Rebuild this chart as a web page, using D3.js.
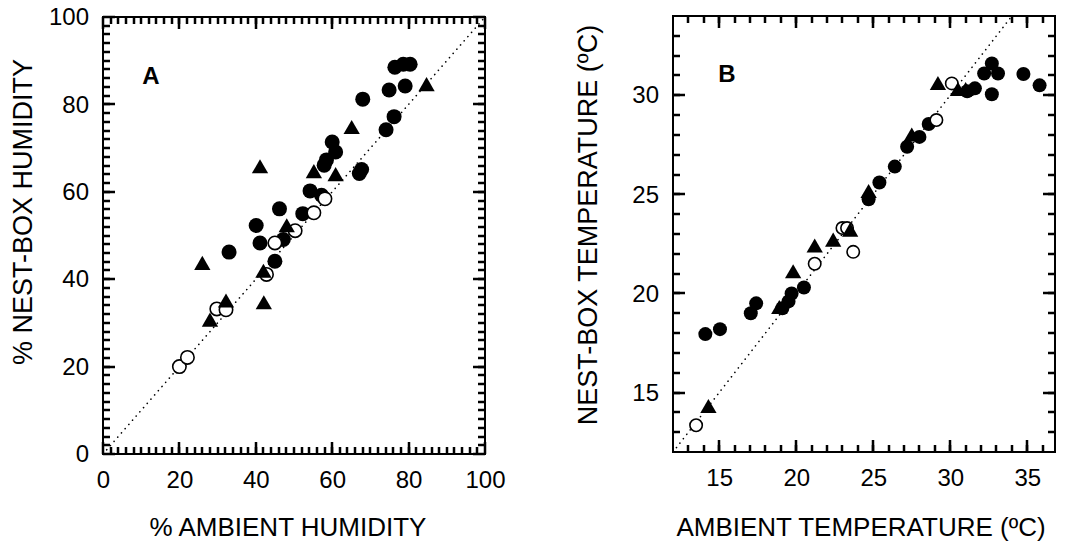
<!DOCTYPE html>
<html>
<meta charset="utf-8">
<style>
    body { margin: 0; background: #fff; }
    svg { display: block; }
    text { font-family: "Liberation Sans", Arial, sans-serif; fill: #000; }
</style>
<body>
<script src="https://d3js.org/d3.v7.min.js"></script>
<script>
// Panel A: humidity (ambient vs nest-box).
var aFilled = [[76.4,88.5],[78.6,89.2],[80.4,89.2],[79.1,84.2],[74.9,83.3],[68.0,81.2],[76.2,77.2],
    [74.1,74.2],[60.0,71.4],[60.9,69.1],[58.5,67.3],[57.9,66.1],[67.7,65.1],[67.1,64.2],[54.2,60.2],
    [57.2,59.2],[46.2,56.1],[52.3,55.0],[40.1,52.3],[41.1,48.3],[47.2,49.1],[33.0,46.2],[45.0,44.1]];
var aOpen = [[20.0,20.0],[22.1,22.1],[29.8,33.2],[32.2,33.0],[42.8,41.1],[45.0,48.3],[50.3,51.1],
    [55.2,55.2],[58.1,58.4]];
var aTriangle = [[84.7,84.1],[65.1,74.3],[41.1,65.3],[55.2,64.2],[60.9,63.5],[48.1,51.8],[26.0,43.2],
    [42.0,41.4],[42.1,34.2],[32.2,34.6],[28.0,30.2]];

// Panel B: temperature (ambient vs nest-box).
var bFilled = [[14.1,17.95],[15.05,18.2],[17.05,19.0],[17.4,19.5],[19.5,19.6],[19.7,20.0],[20.5,20.3],
    [19.1,19.25],[24.7,24.75],[25.4,25.6],[26.4,26.4],[27.2,27.4],[28.0,27.9],[28.6,28.55],[31.1,30.2],
    [31.6,30.35],[32.2,31.1],[32.7,31.6],[33.1,31.1],[32.7,30.05],[34.75,31.07],[35.8,30.5]];
var bOpen = [[13.5,13.35],[21.2,21.5],[23.0,23.3],[23.3,23.3],[23.7,22.1],[29.1,28.75],[30.1,30.6]];
var bTriangle = [[14.3,14.2],[18.9,19.2],[19.8,21.0],[21.2,22.3],[22.4,22.6],[23.5,23.1],[24.7,25.05],
    [27.5,27.9],[29.2,30.5],[30.5,30.2],[31.0,30.2]];

// Tick labels.
var aTicks = [0, 20, 40, 60, 80, 100];
var bXTicks = [15, 20, 25, 30, 35];
var bYTicks = [15, 20, 25, 30];

var svg = d3.select("body").append("svg").attr("width", 1066).attr("height", 543);

// Scales for each panel.
var ax = d3.scaleLinear().domain([0, 100]).range([103, 485]);
var ay = d3.scaleLinear().domain([0, 100]).range([454, 17]);
var bx = d3.scaleLinear().domain([12, 36.8]).range([673, 1055]);
var by = d3.scaleLinear().domain([12, 34]).range([452, 16]);

// Box and tick labels for one panel.
var drawFrame = function(x, y, xMajor, yMajor) {
    var x0 = x.range()[0], x1 = x.range()[1], y0 = y.range()[0], y1 = y.range()[1];
    var g = svg.append("g");
    var gx = g.append("g").attr("transform", "translate(0," + y0 + ")")
        .call(d3.axisBottom(x).tickValues(xMajor).tickSize(0).tickPadding(17).tickFormat(d3.format("d")));
    var gy = g.append("g").attr("transform", "translate(" + x0 + ",0)")
        .call(d3.axisLeft(y).tickValues(yMajor).tickSize(0).tickPadding(14).tickFormat(d3.format("d")));
    [gx, gy].forEach(function(s) {
        s.select(".domain").remove();
        s.selectAll("line").remove();
        s.selectAll("text").attr("font-size", 24)
            .attr("font-family", "Liberation Sans, Arial, sans-serif").attr("fill", "#000");
    });
    g.append("rect").attr("x", x0).attr("y", y1).attr("width", x1 - x0).attr("height", y0 - y1)
        .attr("fill", "none").attr("stroke", "#000").attr("stroke-width", 2);
};

// Inward tick marks as small filled polygons, one path per tick set, drawn last.
var drawTicks = function(x, y, values, horiz, len) {
    var x0 = x.range()[0], x1 = x.range()[1], y0 = y.range()[0], y1 = y.range()[1];
    var w = 2.5, h = w / 2;
    var p = d3.path();
    values.forEach(function(d) {
        if (horiz) {
            var px = Math.round(x(d));
            p.rect(px - h, y0 - len, w, len);
            p.rect(px - h, y1, w, len);
        } else {
            var py = Math.round(y(d));
            p.rect(x0, py - h, len, w);
            p.rect(x1 - len, py - h, len, w);
        }
    });
    svg.append("path").attr("d", p.toString()).attr("fill", "#000");
};

drawFrame(ax, ay, aTicks, aTicks);
drawFrame(bx, by, bXTicks, bYTicks);

// 1:1 dotted lines.
var drawDiagonal = function(x, y, lo, hi) {
    svg.append("line")
        .attr("x1", x(lo)).attr("y1", y(lo)).attr("x2", x(hi)).attr("y2", y(hi))
        .attr("stroke", "#000").attr("stroke-width", 1.6)
        .attr("stroke-linecap", "round").attr("stroke-dasharray", "0.1,5.5");
};
drawDiagonal(ax, ay, 0, 100);
drawDiagonal(bx, by, 12, 34);

// Markers: filled circles, open circles, triangles.
var drawPoints = function(x, y, filled, open, tri, r) {
    svg.append("g").selectAll("circle").data(filled).enter().append("circle")
        .attr("cx", function(d) { return x(d[0]); })
        .attr("cy", function(d) { return y(d[1]); })
        .attr("r", r).attr("fill", "#000");
    svg.append("g").selectAll("circle").data(open).enter().append("circle")
        .attr("cx", function(d) { return x(d[0]); })
        .attr("cy", function(d) { return y(d[1]); })
        .attr("r", r - 0.8).attr("fill", "#fff").attr("stroke", "#000").attr("stroke-width", 1.6);
    svg.append("g").selectAll("path").data(tri).enter().append("path")
        .attr("d", d3.symbol().type(d3.symbolTriangle).size(115))
        .attr("transform", function(d) { return "translate(" + x(d[0]) + "," + y(d[1]) + ")"; })
        .attr("fill", "#000");
};
drawPoints(ax, ay, aFilled, aOpen, aTriangle, 7.5);
drawPoints(bx, by, bFilled, bOpen, bTriangle, 7);

// Ticks go on top of everything.
drawTicks(ax, ay, d3.range(2, 100, 2), true, 7);
drawTicks(ax, ay, aTicks, true, 12);
drawTicks(ax, ay, d3.range(2, 100, 2), false, 7);
drawTicks(ax, ay, aTicks, false, 12);
drawTicks(bx, by, d3.range(13, 37, 1), true, 7);
drawTicks(bx, by, bXTicks, true, 12);
drawTicks(bx, by, d3.range(13, 34, 1), false, 7);
drawTicks(bx, by, bYTicks, false, 12);

// Panel letters.
svg.append("text").attr("x", 151).attr("y", 84).attr("text-anchor", "middle")
    .attr("font-size", 24).attr("font-weight", "bold").text("A");
svg.append("text").attr("x", 727).attr("y", 82).attr("text-anchor", "middle")
    .attr("font-size", 24).attr("font-weight", "bold").text("B");

// Axis titles.
svg.append("text").attr("x", 288).attr("y", 536).attr("text-anchor", "middle")
    .attr("font-size", 26).text("% AMBIENT HUMIDITY");
svg.append("text").attr("x", 861).attr("y", 536).attr("text-anchor", "middle")
    .attr("font-size", 26).text("AMBIENT TEMPERATURE (\u00BAC)");
svg.append("text").attr("transform", "translate(32,212) rotate(-90)").attr("text-anchor", "middle")
    .attr("font-size", 27).text("% NEST-BOX HUMIDITY");
svg.append("text").attr("transform", "translate(597,225) rotate(-90)").attr("text-anchor", "middle")
    .attr("font-size", 27).text("NEST-BOX TEMPERATURE (\u00BAC)");
</script>
</body>
</html>
